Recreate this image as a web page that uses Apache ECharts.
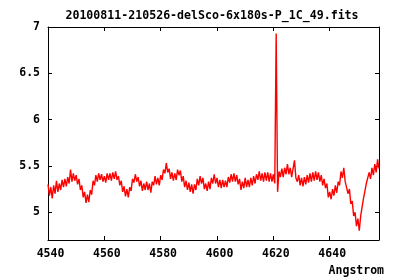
<!DOCTYPE html>
<html>
<head>
<meta charset="utf-8">
<script src="https://cdn.jsdelivr.net/npm/echarts@6/dist/echarts.min.js"></script>
<style>html,body{margin:0;padding:0;background:#fff}#c{width:400px;height:280px}</style>
</head>
<body>
<div id="c"></div>
<script>
const titleText = "20100811-210526-delSco-6x180s-P_1C_49.fits";
const xAxisTitle = "Angstrom";
const waveStart = 4540;   // Angstrom, first sample
const waveStep = 0.5;     // Angstrom between samples
const flux = [
  5.30,5.18,5.27,5.15,5.29,5.20,5.34,5.22,5.31,5.24,
  5.35,5.27,5.36,5.28,5.38,5.31,5.46,5.33,5.42,5.34,
  5.40,5.30,5.36,5.24,5.29,5.16,5.22,5.10,5.19,5.11,
  5.24,5.19,5.34,5.29,5.40,5.33,5.42,5.35,5.41,5.33,
  5.39,5.32,5.42,5.35,5.42,5.34,5.43,5.36,5.44,5.35,
  5.39,5.29,5.34,5.22,5.28,5.17,5.25,5.16,5.27,5.23,
  5.36,5.32,5.41,5.33,5.38,5.28,5.34,5.23,5.31,5.24,
  5.33,5.24,5.31,5.21,5.33,5.29,5.39,5.30,5.37,5.29,
  5.40,5.35,5.46,5.42,5.53,5.43,5.47,5.36,5.43,5.34,
  5.42,5.35,5.46,5.40,5.45,5.33,5.39,5.27,5.34,5.24,
  5.32,5.22,5.30,5.20,5.30,5.24,5.36,5.29,5.39,5.31,
  5.37,5.25,5.31,5.23,5.33,5.25,5.37,5.31,5.41,5.31,
  5.37,5.27,5.35,5.26,5.35,5.27,5.34,5.27,5.38,5.32,
  5.41,5.33,5.42,5.33,5.40,5.30,5.36,5.24,5.33,5.26,
  5.37,5.27,5.35,5.27,5.37,5.29,5.39,5.31,5.41,5.35,
  5.44,5.34,5.42,5.33,5.43,5.34,5.43,5.33,5.42,5.33,
  5.41,5.31,6.93,5.22,5.44,5.38,5.47,5.38,5.48,5.41,
  5.52,5.41,5.48,5.38,5.47,5.56,5.37,5.33,5.40,5.29,
  5.37,5.28,5.38,5.30,5.40,5.32,5.42,5.33,5.43,5.34,
  5.44,5.35,5.43,5.33,5.40,5.29,5.36,5.26,5.31,5.16,
  5.22,5.14,5.25,5.18,5.29,5.21,5.33,5.29,5.44,5.37,
  5.48,5.33,5.35,5.20,5.25,5.09,5.12,4.96,5.00,4.85,
  4.93,4.80,4.96,4.97,5.15,5.14,5.31,5.30,5.43,5.36,
  5.48,5.40,5.52,5.43,5.57,5.47
];
const xTicks = [4540, 4560, 4580, 4600, 4620, 4640];
const yTicks = [5, 5.5, 6, 6.5, 7];

const xRange = [4540, 4657.5];
const yRange = [4.7, 7];

const points = flux.map((v, i) => [waveStart + i * waveStep, v]);

const font = '"DejaVu Sans Mono", monospace';
const chart = echarts.init(document.getElementById('c'), null, {renderer: 'canvas'});
const axisLineStyle = {show: true, lineStyle: {color: '#000', width: 1}};
const labelStyle = {color: '#000', fontFamily: font, fontWeight: 'bold', fontSize: 11.5};
const tick = vals => ({show: true, inside: true, length: 4, customValues: vals, lineStyle: {color: '#000', width: 1}});

chart.setOption({
  animation: false,
  backgroundColor: '#fff',
  grid: {left: 48, right: 21, top: 27, bottom: 40, containLabel: false},
  graphic: [
    {type: 'text', x: 212, y: 16, style: {text: titleText, fill: '#000', font: 'bold 11.6px ' + font, textAlign: 'center', textVerticalAlign: 'middle'}},
    {type: 'text', x: 384, y: 271, style: {text: xAxisTitle, fill: '#000', font: 'bold 11.5px ' + font, textAlign: 'right', textVerticalAlign: 'middle'}}
  ],
  xAxis: [
    {type: 'value', min: xRange[0], max: xRange[1],
     axisLine: axisLineStyle, axisTick: tick(xTicks), splitLine: {show: false},
     axisLabel: Object.assign({margin: 8, customValues: xTicks, padding: [0, 0, 0, 5],
       formatter: v => String(v)}, labelStyle)},
    {type: 'value', position: 'top', min: xRange[0], max: xRange[1],
     axisLine: axisLineStyle, axisTick: tick(xTicks), splitLine: {show: false}, axisLabel: {show: false}}
  ],
  yAxis: [
    {type: 'value', min: yRange[0], max: yRange[1],
     axisLine: axisLineStyle, axisTick: tick(yTicks), splitLine: {show: false},
     axisLabel: Object.assign({margin: 8, customValues: yTicks, formatter: v => String(v)}, labelStyle)},
    {type: 'value', position: 'right', min: yRange[0], max: yRange[1],
     axisLine: axisLineStyle, axisTick: tick(yTicks), splitLine: {show: false}, axisLabel: {show: false}}
  ],
  series: [{
    type: 'line', data: points, xAxisIndex: 0, yAxisIndex: 0,
    showSymbol: false, symbol: 'none',
    lineStyle: {color: '#ff0000', width: 1.4}, z: 3
  }]
});
</script>
</body>
</html>
